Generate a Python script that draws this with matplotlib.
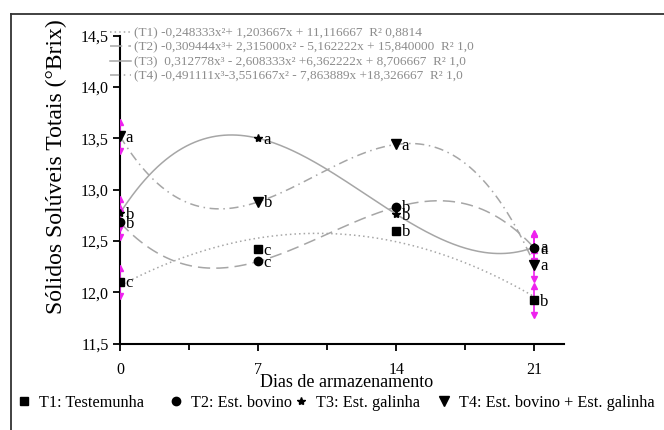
import numpy as np
import matplotlib
matplotlib.use('Agg')
import matplotlib.pyplot as plt
from matplotlib.lines import Line2D
from matplotlib.ticker import FuncFormatter, MultipleLocator

plt.rcParams['font.family'] = ['Liberation Serif', 'DejaVu Serif']

# data
days = [0, 7, 14, 21]
t1 = [12.10, 12.42, 12.60, 11.92]
t2 = [12.68, 12.30, 12.83, 12.43]
t3 = [12.77, 13.50, 12.76, 12.44]
t4 = [13.52, 12.88, 13.44, 12.27]
t1_err = [0.14, 0.0, 0.0, 0.14]
t2_err = [0.14, 0.0, 0.0, 0.14]
t3_err = [0.14, 0.0, 0.0, 0.14]
t4_err = [0.14, 0.0, 0.0, 0.14]
t1_let = ['c', 'c', 'b', 'b']
t2_let = ['b', 'c', 'b', 'a']
t3_let = ['b', 'a', 'b', 'a']
t4_let = ['a', 'b', 'a', 'a']
names = ['T1: Testemunha', 'T2: Est. bovino', 'T3: Est. galinha',
         'T4: Est. bovino + Est. galinha']
equations = [
    '(T1) -0,248333x\u00b2+ 1,203667x + 11,116667  R\u00b2 0,8814',
    '(T2) -0,309444x\u00b3+ 2,315000x\u00b2 - 5,162222x + 15,840000  R\u00b2 1,0',
    '(T3)  0,312778x\u00b3 - 2,608333x\u00b2 +6,362222x + 8,706667  R\u00b2 1,0',
    '(T4) -0,491111x\u00b3-3,551667x\u00b2 - 7,863889x +18,326667  R\u00b2 1,0',
]

series = [t1, t2, t3, t4]
errs = [t1_err, t2_err, t3_err, t4_err]
lets = [t1_let, t2_let, t3_let, t4_let]
degrees = [2, 3, 3, 3]
markers = ['s', 'o', '*', 'v']
msizes = [6, 6, 6, 7]
styles = [(0, (1, 2)), (0, (8, 4)), '-', (0, (6, 3, 1, 3))]
gray = '#a6a6a6'
magenta = '#ee22ee'

fig = plt.figure(figsize=(6.64, 4.30), dpi=100)
ax = fig.add_axes([120/664, 1-343.6/430, (564-120)/664, (343.6-35.6)/430])

xd = np.array(days, dtype=float)
xs = np.linspace(0, 21, 200)
curves = []
for y, deg, ls in zip(series, degrees, styles):
    # fit in the coded x (1..4) like the equations
    p = np.polyfit(xd/7 + 1, y, deg)
    l, = ax.plot(xs, np.polyval(p, xs/7 + 1), color=gray, lw=1.1, linestyle=ls)
    curves.append(l)

for y, e in zip(series, errs):
    y = np.array(y); e = np.array(e)
    m = e > 0
    ax.vlines(xd[m], y[m]-e[m], y[m]+e[m], color=magenta, lw=1.2, zorder=3)
    ax.plot(xd[m], y[m]+e[m], '^', color=magenta, ms=4, zorder=3)
    ax.plot(xd[m], y[m]-e[m], 'v', color=magenta, ms=4, zorder=3)

for y, mk, ms, lt in zip(series, markers, msizes, lets):
    ax.plot(days, y, mk, color='black', ms=ms, ls='none', zorder=4)
    for d, v, s in zip(days, y, lt):
        ax.annotate(s, (d, v), xytext=(4, -1), textcoords='offset points',
                    ha='left', va='center', fontsize=12)

ax.set_xlim(0, 22.5)
ax.set_ylim(11.5, 14.5)
ax.set_xticks(days)
ax.xaxis.set_minor_locator(MultipleLocator(3.5))
ax.yaxis.set_major_locator(MultipleLocator(0.5))
ax.yaxis.set_major_formatter(FuncFormatter(lambda v, p: ('%.1f' % v).replace('.', ',')))
ax.spines['top'].set_visible(False)
ax.spines['right'].set_visible(False)
for s in ['left', 'bottom']:
    ax.spines[s].set_linewidth(1.5)
ax.tick_params(axis='both', which='major', direction='out', length=5, width=1.3,
               labelsize=11.5, pad=3)
ax.tick_params(axis='x', which='minor', direction='out', length=4, width=1.3)
ax.tick_params(axis='x', which='major', pad=8)

ax.set_xlabel('Dias de armazenamento', fontsize=13)
ax.xaxis.set_label_coords(0.51, -0.1)
ax.set_ylabel('Sólidos Solúveis Totais (°Brix)', fontsize=17)
ax.yaxis.set_label_coords(-0.12, 0.575)

# equations legend at the top
fig.legend(curves, equations, loc='upper left',
           bbox_to_anchor=(110/664, 1-27/430), frameon=False,
           fontsize=9.5, labelcolor='#8c8c8c', handlelength=1.6,
           handletextpad=0.2, labelspacing=0.17, borderpad=0,
           borderaxespad=0)

# treatment legend at the bottom, one entry per box
entry_x = [24, 176, 301, 444]
for mk, ms, name, px in zip(markers, msizes, names, entry_x):
    h = Line2D([], [], color='black', marker=mk, ls='none', ms=ms)
    fig.legend([h], [name], loc='center left',
               bbox_to_anchor=((px - 8)/664, 1-403/430), frameon=False,
               fontsize=11.7, handlelength=1.0, handletextpad=0.4,
               borderpad=0, borderaxespad=0)

# frame around the figure (top and left edges visible)
fig.add_artist(Line2D([11/664, 1], [1-14/430, 1-14/430], color='#333333', lw=1.3,
                      transform=fig.transFigure))
fig.add_artist(Line2D([11/664, 11/664], [0, 1-14/430], color='#333333', lw=1.3,
                      transform=fig.transFigure))

fig.savefig('out.png', dpi=100)
